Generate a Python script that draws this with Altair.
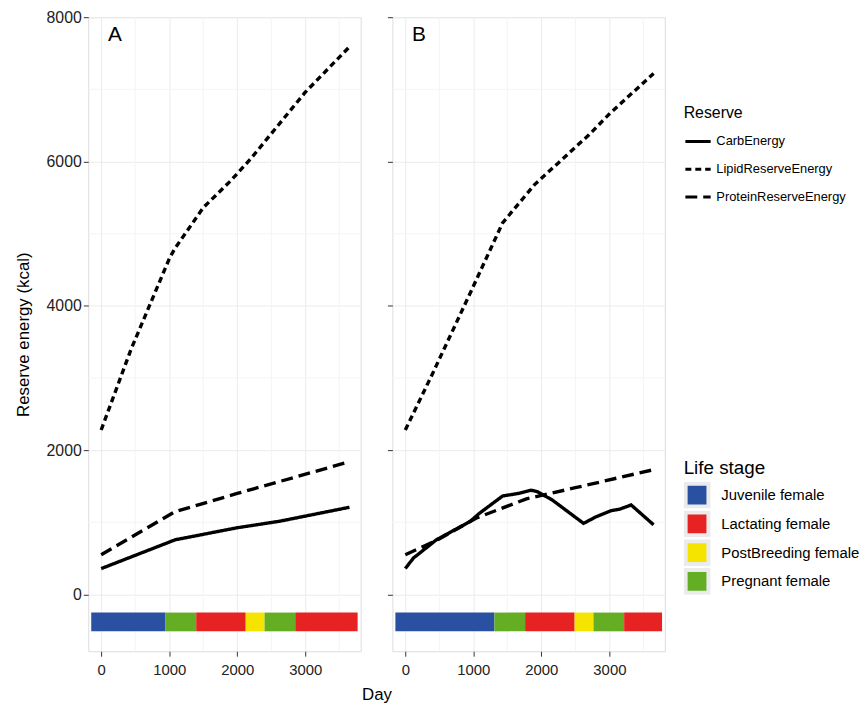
import altair as alt
import pandas as pd

FONT = "Liberation Sans"

# ---------------- data ----------------
SERIES = ["CarbEnergy", "LipidReserveEnergy", "ProteinReserveEnergy"]

# Panel A
A_lipid_day = [0, 440, 1000, 1080, 1500, 1900, 2200, 3000, 3650]
A_lipid_val = [2280, 3400, 4650, 4790, 5360, 5730, 6040, 6960, 7590]
A_protein_day = [0, 1090, 2000, 3650]
A_protein_val = [552, 1150, 1400, 1840]
A_carb_day = [0, 1090, 2000, 2620, 3650]
A_carb_val = [359, 759, 925, 1015, 1209]

# Panel B
B_lipid_day = [0, 400, 970, 1430, 1900, 2700, 3000, 3650]
B_lipid_val = [2280, 3060, 4210, 5150, 5680, 6370, 6660, 7220]
B_protein_day = [0, 460, 1040, 1780, 2500, 3650]
B_protein_val = [552, 750, 1058, 1325, 1480, 1730]
B_carb_day = [0, 120, 460, 950, 1090, 1430, 1670, 1850, 1940, 2160, 2620, 2810, 3030, 3150, 3320, 3650]
B_carb_val = [360, 506, 760, 1011, 1126, 1365, 1402, 1445, 1425, 1310, 986, 1080, 1163, 1182, 1241, 966]

# Life stages
STAGES = ["Juvenile female", "Lactating female", "PostBreeding female", "Pregnant female"]
STAGE_COLORS = ["#2a50a1", "#e62222", "#f5e400", "#63ae22"]
A_stage_seq = ["Juvenile female", "Pregnant female", "Lactating female",
               "PostBreeding female", "Pregnant female", "Lactating female"]
A_stage_bounds = [-146, 946, 1397, 2125, 2402, 2853, 3770]
B_stage_seq = ["Juvenile female", "Pregnant female", "Lactating female",
               "PostBreeding female", "Pregnant female", "Lactating female"]
B_stage_bounds = [-146, 1310, 1761, 2489, 2766, 3217, 3774]
STAGE_BAR_LOW = -510
STAGE_BAR_HIGH = -250

PANEL_LABELS = ["A", "B"]
LABEL_DAY = 100
LABEL_VAL = 7670

X_DOMAIN = [-190, 3815]
Y_DOMAIN = [-786, 8000]
X_TICKS = [0, 1000, 2000, 3000]
Y_TICKS = [0, 2000, 4000, 6000, 8000]
X_MINOR = [500, 1500, 2500, 3500]
Y_MINOR = [1000, 3000, 5000, 7000]


def lines_df(parts):
    rows = []
    for name, days, vals in parts:
        for d, v in zip(days, vals):
            rows.append({"series": name, "day": d, "value": v})
    return pd.DataFrame(rows)


def stages_df(seq, bounds):
    return pd.DataFrame({
        "stage": seq,
        "start": bounds[:-1],
        "end": bounds[1:],
        "lo": [STAGE_BAR_LOW] * len(seq),
        "hi": [STAGE_BAR_HIGH] * len(seq),
    })


xs = alt.Scale(domain=X_DOMAIN, nice=False, zero=False)
ys = alt.Scale(domain=Y_DOMAIN, nice=False, zero=False)

dash_scale = alt.Scale(domain=SERIES, range=[[1, 0], [6, 4], [12, 6]])
color_scale = alt.Scale(domain=STAGES, range=STAGE_COLORS)

reserve_legend = alt.Legend(
    title="Reserve", orient="none", legendX=601, legendY=89,
    titleFontSize=16, titleFontWeight="normal", titleFont=FONT, titleColor="#000",
    labelFontSize=13, labelFont=FONT, labelColor="#000",
    symbolType="stroke", symbolStrokeWidth=3, symbolSize=650,
    symbolStrokeColor="black", rowPadding=6, labelOffset=4, titlePadding=6,
)
stage_legend = alt.Legend(
    title="Life stage", orient="none", legendX=601, legendY=446,
    titleFontSize=19, titleFontWeight="normal", titleFont=FONT, titleColor="#000",
    labelFontSize=15, labelFont=FONT, labelColor="#000",
    symbolType="square", symbolSize=529, symbolStrokeColor="#ebebeb",
    symbolStrokeWidth=4, symbolOpacity=1, clipHeight=27, rowPadding=2,
    labelOffset=11, titlePadding=4,
)


def panel(label, line_data, stage_data, first):
    x_axis = alt.Axis(
        values=X_TICKS, format="d", grid=True, gridColor="#ebebeb", domain=False,
        tickSize=5, tickColor="#333", labelPadding=6, labelFontSize=15,
        labelColor="#222", labelFont=FONT,
        title="Day" if first else None, titleX=291, titleFontSize=17,
        titleFontWeight="normal", titleFont=FONT, titlePadding=10, titleColor="#000",
    )
    y_axis = alt.Axis(
        values=Y_TICKS, format="d", grid=True, gridColor="#ebebeb", domain=False,
        tickSize=5, tickColor="#333", labels=first, labelPadding=2,
        labelFontSize=16, labelColor="#222", labelFont=FONT,
        title="Reserve energy (kcal)" if first else None, titleFontSize=17,
        titleFontWeight="normal", titleFont=FONT, titlePadding=14, titleColor="#000",
    )
    minor_x = alt.Chart(pd.DataFrame({"v": X_MINOR})).mark_rule(
        color="#f4f4f4", strokeWidth=1).encode(x=alt.X("v:Q", scale=xs, axis=x_axis))
    minor_y = alt.Chart(pd.DataFrame({"v": Y_MINOR})).mark_rule(
        color="#f4f4f4", strokeWidth=1).encode(y=alt.Y("v:Q", scale=ys, axis=y_axis))
    bars = alt.Chart(stage_data).mark_rect().encode(
        x=alt.X("start:Q", scale=xs, axis=x_axis),
        x2="end:Q",
        y=alt.Y("lo:Q", scale=ys, axis=y_axis),
        y2="hi:Q",
        color=alt.Color("stage:N", scale=color_scale, legend=stage_legend),
    )
    lines = alt.Chart(line_data).mark_line(color="black", strokeWidth=3.4).encode(
        x=alt.X("day:Q", scale=xs, axis=x_axis),
        y=alt.Y("value:Q", scale=ys, axis=y_axis),
        strokeDash=alt.StrokeDash("series:N", scale=dash_scale, legend=reserve_legend),
        detail="series:N",
        order="day:Q",
    )
    txt = alt.Chart(pd.DataFrame({"t": [label], "x": [LABEL_DAY], "y": [LABEL_VAL]})).mark_text(
        fontSize=21, align="left", baseline="alphabetic", font=FONT, color="#000"
    ).encode(x=alt.X("x:Q", scale=xs), y=alt.Y("y:Q", scale=ys), text="t:N")
    return alt.layer(minor_x, minor_y, bars, lines, txt).properties(width=275, height=640)


pA = panel(PANEL_LABELS[0],
           lines_df([("CarbEnergy", A_carb_day, A_carb_val),
                     ("LipidReserveEnergy", A_lipid_day, A_lipid_val),
                     ("ProteinReserveEnergy", A_protein_day, A_protein_val)]),
           stages_df(A_stage_seq, A_stage_bounds), True)
pB = panel(PANEL_LABELS[1],
           lines_df([("CarbEnergy", B_carb_day, B_carb_val),
                     ("LipidReserveEnergy", B_lipid_day, B_lipid_val),
                     ("ProteinReserveEnergy", B_protein_day, B_protein_val)]),
           stages_df(B_stage_seq, B_stage_bounds), False)

chart = alt.hconcat(pA, pB, spacing=32, bounds="flush").properties(
    padding={"left": 5, "top": -3, "right": 0, "bottom": 0}
).configure_view(stroke="#8c8c8c", strokeWidth=1.2).configure(font=FONT)

chart.save("out.html", embed_options={"renderer": "svg", "actions": False})
